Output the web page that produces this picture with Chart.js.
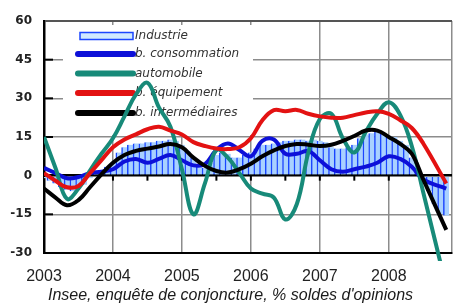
<!DOCTYPE html>
<html>
<head>
<meta charset="utf-8">
<script src="https://cdn.jsdelivr.net/npm/chart.js@4.4.1/dist/chart.umd.min.js"></script>
<style>
  html, body { margin: 0; padding: 0; background: #fff; }
</style>
</head>
<body>
<canvas id="myChart" width="466" height="305"></canvas>
<script>
'use strict';

// months since Jan 2003
const lineMonths = [0, 2, 4, 6, 8, 10, 12, 14, 16, 18, 20, 22, 24, 26, 28, 30, 32, 34,
  36, 38, 40, 42, 44, 46, 48, 50, 52, 54, 56, 58, 60, 62, 64, 66, 70];

const consommation = [3, 1, -1, -0.5, 1, 1.5, 2.5, 5.5, 6.5, 5, 6.5, 8, 6, 4, 4.5, 10, 12.5, 10,
  7.5, 13.5, 14, 8.5, 8.5, 9.5, 6, 2.5, 1.5, 2.5, 3.5, 5, 7.5, 6.5, 3.5, -1.5, -5];
const automobile = [15, 3, -9, -5, 2, 8.5, 14.5, 23, 31.5, 36, 26.5, 19, 2.5, -15, -3, 10, 7, 1,
  -5, -7, -8.5, -17, -11, 9, 22, 24, 14.5, 9, 17, 24, 28.5, 23.5, 11.5, -6.5, -43];
const equipement = [1, -2, -4.5, -4, 1, 6, 11, 14, 16, 18, 19, 17.5, 16, 13, 11.5, 10.5, 10.3, 11,
  14.5, 21.5, 25.4, 25, 25.5, 24, 23, 22.5, 22.5, 23.5, 24.5, 25, 24, 21.5, 18.5, 12.5, -3];
const intermediaires = [-5, -8.5, -11.5, -9.5, -4.5, 0.5, 5, 8, 9.6, 10.5, 11.3, 12.3, 11, 7, 3.8, 1.8, 1.2, 2.5,
  4.6, 7.5, 9.8, 11.5, 12.3, 12, 11.5, 12, 13.5, 15.4, 17.5, 17.5, 15, 12.3, 8.5, -1.5, -21];

// industrie : une barre par mois (0 = janv. 2003)
const industrie = [
  -1, -2, -3, -4.5, -5.5, -6, -5, -3.5, -1, 1,
  2, 3.5, 5, 9, 11, 12, 12.5, 12.5, 13, 13,
  13.5, 13.5, 14, 13.5, 12, 9.5, 7, 4, 3, 5,
  8, 9, 8.5, 7, 7, 8, 9, 10.5, 12, 12,
  12.5, 13, 13.5, 13.5, 14, 14, 13.5, 14, 13.5, 13,
  11, 10.5, 10.5, 11, 12, 14.5, 16, 16.5, 17, 16.5,
  15.5, 15, 13.5, 12, 7, 2, -2, -6, -11, -15,
  -15.5
];
const barMonths = industrie.map((v, i) => i);

const yearLabels = ['2003', '2004', '2005', '2006', '2007', '2008'];
const seriesNames = ['Industrie', 'b. consommation', 'automobile', 'b. équipement', 'b. intermédiaires'];
const titleText = "Insee, enquête de conjoncture, % soldes d'opinions";

const colors = {
  barFill: '#a9d1ff',
  barLine: '#1a46ff',
  legendFill: '#cfe9ff',
  conso: '#0d10d8',
  auto: '#178a79',
  equip: '#e31212',
  inter: '#000000'
};

function pts(xs, ys) {
  return xs.map((x, i) => ({ x: x, y: ys[i] }));
}

// cadre de légende + petites graduations
const decor = {
  id: 'decor',
  beforeDatasetsDraw(chart) {
    const { ctx, chartArea, scales } = chart;
    const x = scales.x, y = scales.y;
    ctx.save();
    ctx.strokeStyle = '#000';
    ctx.lineWidth = 2;
    [45, 30, 15, -15].forEach(v => {
      const py = y.getPixelForValue(v);
      ctx.beginPath();
      ctx.moveTo(chartArea.left, py);
      ctx.lineTo(chartArea.left + 9, py);
      ctx.stroke();
    });
    const y0 = y.getPixelForValue(0);
    for (let m = 6; m <= 66; m += 6) {
      const px = x.getPixelForValue(m);
      ctx.beginPath();
      ctx.moveTo(px, y0);
      ctx.lineTo(px, y0 + 5);
      ctx.stroke();
    }

    // légende
    const lx = chartArea.left + 19, ly = chartArea.top + 4;
    ctx.fillStyle = '#fff';
    ctx.fillRect(lx, ly, 190, 110);
    const symL = chartArea.left + 34, symR = chartArea.left + 89;
    const textX = chartArea.left + 91;
    const rowY = [36, 54, 73.5, 93, 113];
    const lineCols = [null, colors.conso, colors.auto, colors.equip, colors.inter];
    ctx.font = 'italic 12px "DejaVu Sans"';
    ctx.textBaseline = 'middle';
    seriesNames.forEach((name, i) => {
      const ry = rowY[i];
      if (i === 0) {
        ctx.fillStyle = colors.legendFill;
        ctx.fillRect(symL + 2, ry - 3.5, symR - symL - 2, 7);
        ctx.strokeStyle = colors.barLine;
        ctx.lineWidth = 1.5;
        ctx.strokeRect(symL + 2, ry - 3.5, symR - symL - 2, 7);
      } else {
        ctx.strokeStyle = lineCols[i];
        ctx.lineWidth = 6;
        ctx.lineCap = 'round';
        ctx.beginPath();
        ctx.moveTo(symL, ry);
        ctx.lineTo(symR, ry);
        ctx.stroke();
      }
      ctx.fillStyle = '#333';
      ctx.fillText(name, textX, ry);
    });
    ctx.restore();
  }
};

const gray = '#8c8c8c';

const config = {
  type: 'bar',
  data: {
    datasets: [
      {
        type: 'bar',
        label: seriesNames[0],
        data: pts(barMonths, industrie),
        backgroundColor: colors.barFill,
        borderColor: colors.barLine,
        borderWidth: { left: 1.5, right: 0, top: 0, bottom: 0 },
        borderSkipped: false,
        barPercentage: 1,
        categoryPercentage: 1,
        order: 5
      },
      {
        type: 'line',
        label: seriesNames[1],
        data: pts(lineMonths, consommation),
        borderColor: colors.conso,
        borderWidth: 4,
        pointRadius: 0,
        tension: 0.4,
        order: 4
      },
      {
        type: 'line',
        label: seriesNames[2],
        data: pts(lineMonths, automobile),
        borderColor: colors.auto,
        borderWidth: 4,
        pointRadius: 0,
        tension: 0.4,
        clip: { left: 0, right: 0, top: 0, bottom: 8 },
        order: 3
      },
      {
        type: 'line',
        label: seriesNames[3],
        data: pts(lineMonths, equipement),
        borderColor: colors.equip,
        borderWidth: 4,
        pointRadius: 0,
        tension: 0.4,
        order: 2
      },
      {
        type: 'line',
        label: seriesNames[4],
        data: pts(lineMonths, intermediaires),
        borderColor: colors.inter,
        borderWidth: 4,
        pointRadius: 0,
        tension: 0.4,
        order: 1
      }
    ]
  },
  options: {
    responsive: false,
    animation: false,
    devicePixelRatio: 1,
    layout: { padding: { top: 21, right: 5, left: 0, bottom: 0 } },
    scales: {
      x: {
        type: 'linear',
        min: 0,
        max: 71,
        offset: false,
        afterBuildTicks: s => { s.ticks = [0, 12, 24, 36, 48, 60, 71].map(v => ({ value: v })); },
        afterFit: s => { s.height = 32.8; },
        ticks: {
          autoSkip: false,
          maxRotation: 0,
          padding: 14,
          color: '#222',
          font: { family: 'Liberation Sans', size: 16 },
          callback: v => (v % 12 === 0 ? yearLabels[v / 12] : '')
        },
        grid: { color: gray, lineWidth: 1.5, drawTicks: false, offset: false },
        border: { color: '#000', width: 2 }
      },
      y: {
        min: -30,
        max: 60,
        afterFit: s => { s.width = 44; },
        ticks: {
          stepSize: 15,
          padding: 12,
          color: '#222',
          font: { family: 'DejaVu Sans', size: 12, weight: 'bold' }
        },
        grid: {
          drawTicks: false,
          color: c => (c.tick.value === 0 ? '#000' : (c.tick.value === 60 ? '#555' : gray)),
          lineWidth: c => (c.tick.value === 0 ? 2.5 : (c.tick.value === 60 ? 2 : 1.5))
        },
        border: { color: '#000', width: 2.5 }
      }
    },
    plugins: {
      legend: { display: false },
      tooltip: { enabled: false },
      title: {
        display: true,
        position: 'bottom',
        text: titleText,
        color: '#1a1a1a',
        padding: 0,
        font: { family: 'Liberation Sans', size: 16, style: 'italic', weight: 'normal' }
      }
    }
  },
  plugins: [decor]
};

const myChart = new Chart(document.getElementById('myChart').getContext('2d'), config);
</script>
</body>
</html>
